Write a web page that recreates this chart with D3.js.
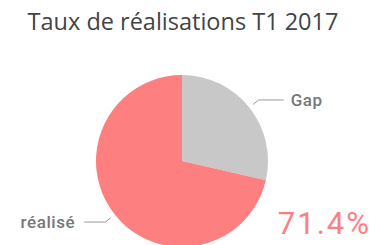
<!DOCTYPE html>
<html>
<head>
<meta charset="utf-8">
<script src="https://cdn.jsdelivr.net/npm/d3@7"></script>
<style>
  body { margin: 0; background: #fff; }
  svg { display: block; }
</style>
</head>
<body>
<div id="chart"></div>
<script>
const CATEGORIES = ["Gap", "réalisé"];
const VALUES = [28.6, 71.4];
const COLORS = ["#c8c8c8", "#fd7f7f"];
const TITLE = "Taux de réalisations T1 2017";
const KPI = "71.4%";

const W = 372, H = 245;
const cx = 182, cy = 161, r = 86;

const svg = d3.select("#chart").append("svg")
    .attr("width", W).attr("height", H);

svg.append("text")
    .attr("x", 183).attr("y", 30)
    .attr("text-anchor", "middle")
    .attr("font-family", "Open Sans, sans-serif")
    .attr("font-size", 23.5)
    .attr("fill", "#444")
    .text(TITLE);

const data = CATEGORIES.map((c, i) => ({ cat: c, value: VALUES[i], color: COLORS[i] }));

const pie = d3.pie().value(d => d.value).sort(null);
const arcs = pie(data);
const arc = d3.arc().innerRadius(0).outerRadius(r);
const arcIn = d3.arc().innerRadius(r + 5).outerRadius(r + 5);
const arcOut = d3.arc().innerRadius(r + 12).outerRadius(r + 12);

const g = svg.append("g").attr("transform", `translate(${cx},${cy})`);

g.selectAll("path.slice")
    .data(arcs)
    .join("path")
    .attr("class", "slice")
    .attr("d", arc)
    .attr("fill", d => d.data.color);

// leader lines + labels
arcs.forEach(d => {
    const p1 = arcIn.centroid(d);
    const p2 = arcOut.centroid(d);
    const right = p2[0] > 0;
    const p3 = [p2[0] + (right ? 25 : -21), p2[1]];
    g.append("polyline")
        .attr("points", [p1, p2, p3].map(p => p.join(",")).join(" "))
        .attr("fill", "none")
        .attr("stroke", "#999")
        .attr("stroke-width", 1);
    g.append("text")
        .attr("x", p3[0] + (right ? 7 : -9))
        .attr("y", p3[1])
        .attr("dy", "0.35em")
        .attr("text-anchor", right ? "start" : "end")
        .attr("font-family", "Roboto, sans-serif")
        .attr("font-weight", 500)
        .attr("font-size", 17)
        .attr("letter-spacing", 0.6)
        .attr("fill", "#777")
        .text(d.data.cat);
});

svg.append("text")
    .attr("x", 371).attr("y", 234)
    .attr("text-anchor", "end")
    .attr("font-family", "Roboto, sans-serif")
    .attr("font-size", 31)
    .attr("letter-spacing", 2)
    .attr("fill", "#fd7f7f")
    .text(KPI);
</script>
</body>
</html>
